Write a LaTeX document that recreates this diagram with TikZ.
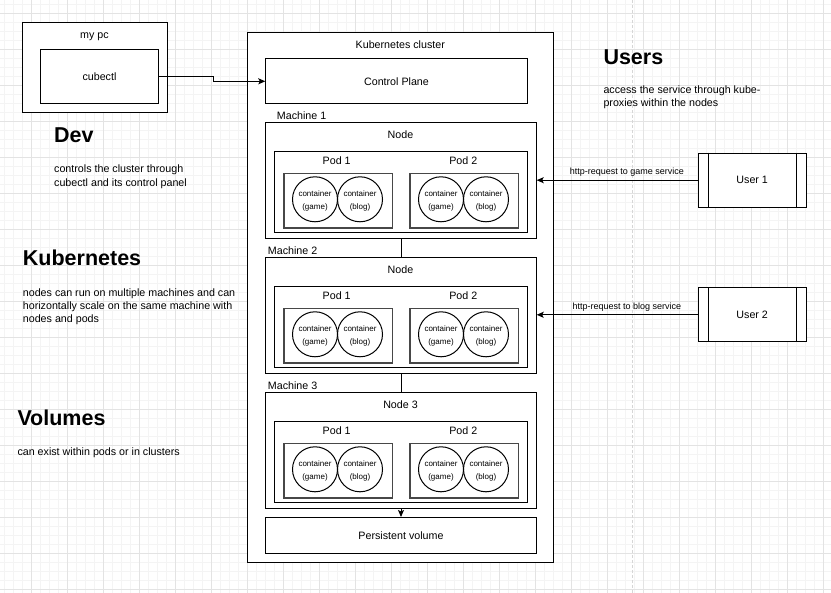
\documentclass[tikz,border=0pt]{standalone}
\usepackage{fontspec}
\setmainfont{Liberation Sans}
\usetikzlibrary{arrows.meta,calc}
\definecolor{gridminor}{HTML}{F4F4F4}
\definecolor{gridmajor}{HTML}{E3E3E3}
\definecolor{guide}{HTML}{D6D6D6}
\tikzset{
  box/.style={draw=black,line width=1pt,fill=white,inner sep=0pt,anchor=north west},
  podbox/.style={draw=black!72,line width=1.3pt,fill=white,inner sep=0pt,anchor=north west},
  lbl/.style={inner sep=0pt,font=\fontsize{10.7}{13}\selectfont},
  blbl/.style={inner sep=0pt,anchor=base west,font=\fontsize{10.7}{13}\selectfont},
  head/.style={inner sep=0pt,anchor=base west,font=\fontsize{21.5}{24}\selectfont\bfseries},
  circ/.style={draw=black,line width=1pt,circle,minimum size=45pt,inner sep=0pt},
  ctext/.style={inner sep=0pt,align=center,font=\fontsize{8}{13}\selectfont},
  elbl/.style={inner sep=0pt,font=\fontsize{9}{11}\selectfont},
  conn/.style={draw=black,line width=1pt},
  arr/.style={draw=black,line width=1pt,-{Stealth[length=7pt,width=6pt,inset=1.5pt]}},
}
\begin{document}
\begin{tikzpicture}[x=1pt,y=-1pt]
\useasboundingbox (0,0) rectangle (831,593);
\fill[white] (0,0) rectangle (831,593);
% grid
\foreach \i in {0,...,92} {\draw[gridminor,line width=0.8pt] ({4.7+9*\i},0) -- ({4.7+9*\i},593);}
\foreach \i in {0,...,65} {\draw[gridminor,line width=0.8pt] (0,{4.3+9*\i}) -- (831,{4.3+9*\i});}
\foreach \i in {0,...,22} {\draw[gridmajor,line width=0.8pt] ({31.7+36*\i},0) -- ({31.7+36*\i},593);}
\foreach \i in {0,...,16} {\draw[gridmajor,line width=0.8pt] (0,{13.3+36*\i}) -- (831,{13.3+36*\i});}
\draw[guide,line width=1pt,dash pattern=on 3pt off 2pt] (632,0) -- (632,593);

% my pc
\node[box,minimum width=144.4pt,minimum height=90pt] (mypc) at (22.3,22.3) {};
\node[lbl] (mypcl) at (94.5,36.7) {my pc};
\node[box,minimum width=117.4pt,minimum height=54pt,font=\fontsize{10.7}{13}\selectfont] (cubectl) at (40.3,49.3) {cubectl};

% cluster
\node[box,minimum width=306pt,minimum height=530.6pt] (cluster) at (247.3,31.7) {};
\node[lbl] (clusterl) at (400.3,45) {Kubernetes cluster};
\node[box,minimum width=261.4pt,minimum height=45pt,font=\fontsize{10.7}{13}\selectfont] (cp) at (265.3,58.3) {Control Plane};

% machines
\foreach \m/\dy/\mx/\nn in {1/0/276.7/Node,2/135/267.7/Node,3/270/267.7/Node 3} {
  \node[blbl] (mach\m) at (\mx,{119.5+\dy}) {Machine \m};
  \node[box,minimum width=270.4pt,minimum height=116.3pt] (node\m) at (265.3,{121.7+\dy}) {};
  \node[lbl] (nodel\m) at (400.5,{135+\dy}) {\nn};
  \node[box,minimum width=252.4pt,minimum height=81pt] (pods\m) at (274.3,{150.7+\dy}) {};
  \node[lbl] (pod\m a) at (336.7,{160.3+\dy}) {Pod 1};
  \node[lbl] (pod\m b) at (463.3,{160.3+\dy}) {Pod 2};
  \node[podbox,minimum width=108.7pt,minimum height=54.6pt] (in\m a) at (283.3,{172.7+\dy}) {};
  \node[podbox,minimum width=108.4pt,minimum height=54.6pt] (in\m b) at (409.3,{172.7+\dy}) {};
  \node[circ,label={[ctext,yshift=-2pt]center:{container\\(game)}}] (c\m a) at (315,{199.3+\dy}) {};
  \node[circ,label={[ctext,yshift=-2pt]center:{container\\(blog)}}] (c\m b) at (360,{199.3+\dy}) {};
  \node[circ,label={[ctext,yshift=-2pt]center:{container\\(game)}}] (c\m c) at (441,{199.3+\dy}) {};
  \node[circ,label={[ctext,yshift=-2pt]center:{container\\(blog)}}] (c\m d) at (486,{199.3+\dy}) {};
}
\node[box,minimum width=270.4pt,minimum height=36pt,font=\fontsize{10.7}{13}\selectfont] (pv) at (265.3,517) {Persistent volume};

\draw[conn] (node1.south) -- (node2.north);
\draw[conn] (node2.south) -- (node3.north);
\draw[arr] (node3.south) -- (pv.north);

% cubectl -> control plane
\draw[arr] (cubectl.east) -- ++(54.3,0) |- (cp.west);

% users
\foreach \u/\y in {1/152.7,2/287.3} {
  \node[box,minimum width=108pt,minimum height=54pt,font=\fontsize{10.7}{13}\selectfont] (user\u) at (697.7,\y) {User \u};
  \draw[line width=1pt] ([xshift=11pt]user\u.north west) -- ([xshift=11pt]user\u.south west);
  \draw[line width=1pt] ([xshift=-10.7pt]user\u.north east) -- ([xshift=-10.7pt]user\u.south east);
}
\draw[arr] (user1.west) -- (user1.west -| node1.east) node[elbl,pos=0.44,yshift=8pt] (req1) {http-request to game service};
\draw[arr] (user2.west) -- (user2.west -| node2.east) node[elbl,pos=0.44,yshift=7.5pt] (req2) {http-request to blog service};

% texts
\node[head] (dev) at (54,142.7) {Dev};
\node[blbl] (dev1) at (54,172.8) {controls the cluster through};
\node[blbl] (dev2) at (54,186.2) {cubectl and its control panel};

\node[head] (kub) at (22.7,266) {Kubernetes};
\node[blbl] (kub1) at (22.7,296.8) {nodes can run on multiple machines and can};
\node[blbl] (kub2) at (22.7,309.8) {horizontally scale on the same machine with};
\node[blbl] (kub3) at (22.7,322.8) {nodes and pods};

\node[head] (vol) at (17.3,426) {Volumes};
\node[blbl] (vol1) at (17.3,455.8) {can exist within pods or in clusters};

\node[head] (usr) at (603.3,64.3) {Users};
\node[blbl] (usr1) at (603.3,93.5) {access the service through kube-};
\node[blbl] (usr2) at (603.3,106.5) {proxies within the nodes};
\end{tikzpicture}
\end{document}
